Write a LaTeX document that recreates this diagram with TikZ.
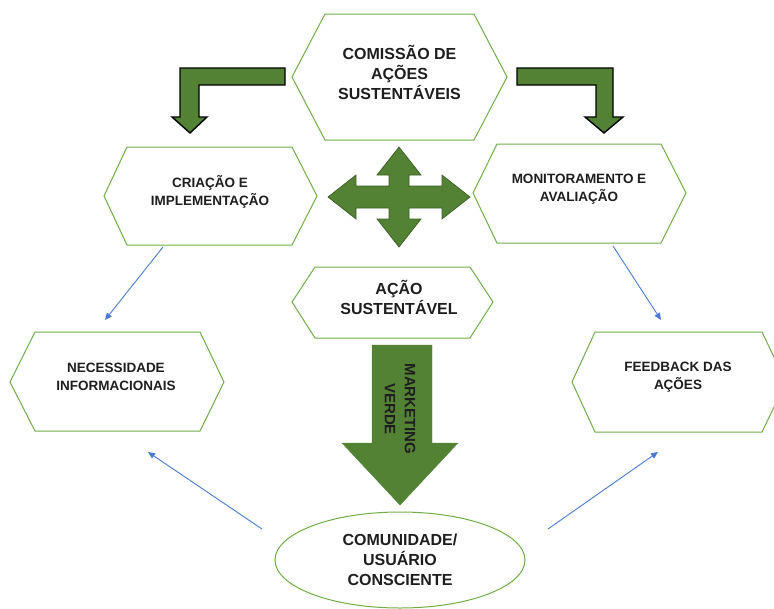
\documentclass[tikz,border=0pt]{standalone}
\usepackage{fontspec}
\setmainfont{Liberation Sans}
\usetikzlibrary{arrows.meta,shapes.geometric}
\definecolor{hexgreen}{HTML}{70AD47}
\definecolor{arrgreen}{HTML}{548235}
\definecolor{crossline}{HTML}{3B5E26}
\definecolor{linkblue}{HTML}{4A7BD0}
\definecolor{txt}{HTML}{1E1E1E}
\begin{document}
\begin{tikzpicture}[x=1pt,y=-1pt,
  hexbox/.style={draw=hexgreen, line width=1pt, fill=white, line join=miter},
  bigtxt/.style={font=\bfseries\fontsize{16}{20}\selectfont, text=txt, align=center, inner sep=0pt},
  smalltxt/.style={font=\bfseries\fontsize{13.5}{17.5}\selectfont, text=txt, align=center, inner sep=0pt},
  mkttxt/.style={font=\bfseries\fontsize{15}{20}\selectfont, text=txt, align=center, inner sep=0pt},
  link/.style={draw=linkblue, line width=0.9pt, -{Triangle[length=7pt,width=6pt]}},
  bentarrow/.style={fill=arrgreen, draw=black, line width=1.4pt, line join=miter},
  crossarrow/.style={fill=arrgreen, draw=crossline, line width=0.7pt, line join=miter},
  downarrow/.style={fill=arrgreen, draw=arrgreen, line width=0.4pt},
  ellbox/.style={ellipse, draw=hexgreen, line width=1pt, minimum width=250pt, minimum height=96pt, inner sep=0pt, font=\bfseries\fontsize{16}{20}\selectfont, text=txt, align=center}
]
\useasboundingbox (0,0) rectangle (774,608);

% hexagons
\draw[hexbox] (325,14) -- (474,14) -- (507,77) -- (474,140) -- (325,140) -- (292,77) -- cycle;
\node[bigtxt] (comissao) at (399.5,72) {COMISSÃO DE\\AÇÕES\\SUSTENTÁVEIS};

\draw[hexbox] (127,147) -- (292,147) -- (317,196) -- (292,245) -- (127,245) -- (104,196) -- cycle;
\node[smalltxt] (criacao) at (210,192) {CRIAÇÃO E\\IMPLEMENTAÇÃO};

\draw[hexbox] (497,144) -- (661,144) -- (686,193) -- (661,243) -- (497,243) -- (473,193) -- cycle;
\node[smalltxt] (monitor) at (579,189) {MONITORAMENTO E\\AVALIAÇÃO};

\draw[hexbox] (315,267) -- (470,267) -- (493,302) -- (470,338) -- (315,338) -- (292,302) -- cycle;
\node[bigtxt] (acao) at (399,297) {AÇÃO\\SUSTENTÁVEL};

\draw[hexbox] (35,332) -- (200,332) -- (224,382) -- (200,431) -- (35,431) -- (10,382) -- cycle;
\node[smalltxt] (necess) at (116,377) {NECESSIDADE\\INFORMACIONAIS};

\draw[hexbox] (595,332) -- (762,332) -- (786,382) -- (762,432) -- (595,432) -- (572,382) -- cycle;
\node[smalltxt] (feedback) at (678,377) {FEEDBACK DAS\\AÇÕES};

% ellipse
\node[ellbox] (comunidade) at (400,560) {COMUNIDADE/\\USUÁRIO\\CONSCIENTE};

% bent arrows
\draw[bentarrow] (285,68) -- (180,68) -- (180,117) -- (172,117) -- (190,133) -- (207,117) -- (199,117) -- (199,85) -- (285,85) -- cycle;
\draw[bentarrow] (517,68) -- (613,68) -- (613,117) -- (623,117) -- (604,133) -- (585,117) -- (596,117) -- (596,85) -- (517,85) -- cycle;

% four-way arrow
\begin{scope}[shift={(399,197)}]
\draw[crossarrow] (0,-50) -- (22,-22) -- (10,-22) -- (10,-11) -- (43,-11) -- (43,-22) -- (71,0) -- (43,22) -- (43,11) -- (10,11) -- (10,22) -- (22,22) -- (0,50) -- (-22,22) -- (-10,22) -- (-10,11) -- (-43,11) -- (-43,22) -- (-71,0) -- (-43,-22) -- (-43,-11) -- (-10,-11) -- (-10,-22) -- (-22,-22) -- cycle;
\end{scope}

% marketing verde arrow
\draw[downarrow] (372,345) -- (432,345) -- (432,443) -- (458,443) -- (400,505) -- (342,443) -- (372,443) -- cycle;
\node[mkttxt, rotate=-90] (mkt) at (400,409) {MARKETING\\VERDE};

% blue connectors
\coordinate (c1s) at (163,247);
\coordinate (c1e) at (105,320);
\coordinate (c2s) at (613,246);
\coordinate (c2e) at (661,320);
\coordinate (c3s) at (262,529);
\coordinate (c3e) at (148,452);
\coordinate (c4s) at (548,529);
\coordinate (c4e) at (658,452);
\draw[link] (c1s) -- (c1e);
\draw[link] (c2s) -- (c2e);
\draw[link] (c3s) -- (c3e);
\draw[link] (c4s) -- (c4e);
\end{tikzpicture}
\end{document}
